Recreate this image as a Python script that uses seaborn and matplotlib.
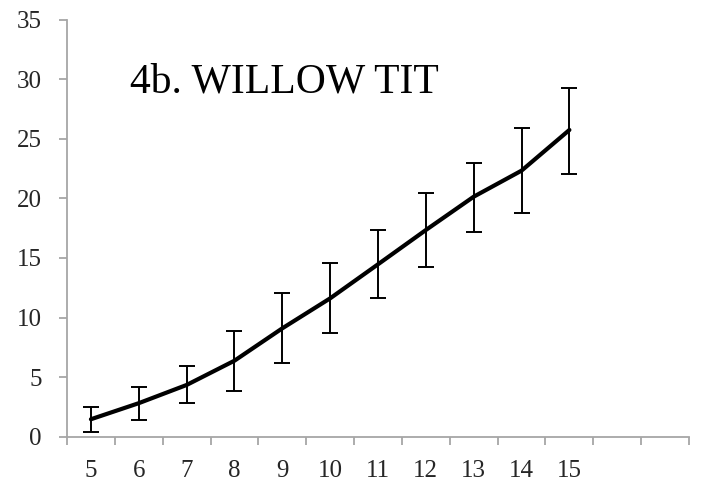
import numpy as np
import pandas as pd
import matplotlib
matplotlib.use("Agg")
import matplotlib.pyplot as plt
import seaborn as sns

# Data
ages = ["5", "6", "7", "8", "9", "10", "11", "12", "13", "14", "15"]
extra_slots = 2  # empty categories at the right of the axis
mean_vals = [1.45, 2.8, 4.33, 6.37, 9.09, 11.61, 14.47, 17.35, 20.15, 22.34, 25.76]
upper_vals = [2.45, 4.16, 5.92, 8.84, 12.03, 14.55, 17.35, 20.44, 22.96, 25.92, 29.31]
lower_vals = [0.38, 1.39, 2.79, 3.82, 6.2, 8.67, 11.61, 14.27, 17.21, 18.76, 22.06]
y_ticks = [0, 5, 10, 15, 20, 25, 30, 35]
title_text = "4b. WILLOW TIT"

df = pd.DataFrame({"pos": np.arange(len(ages)), "age": ages, "mean": mean_vals,
                   "lo": lower_vals, "hi": upper_vals})

sns.set_style("white")
plt.rcParams["font.family"] = ["Liberation Serif", "DejaVu Serif"]

fig = plt.figure(figsize=(7.01, 4.88), dpi=100)
ax = fig.add_axes([67 / 701, 1 - 436.5 / 488, 622 / 701, 416.5 / 488])

ax.errorbar(df["pos"], df["mean"],
            yerr=[df["mean"] - df["lo"], df["hi"] - df["mean"]],
            fmt="none", ecolor="black", elinewidth=1.4, capsize=5.5, capthick=1.4, zorder=2)
sns.lineplot(data=df, x="pos", y="mean", color="black", linewidth=3.0, ax=ax, zorder=3)

n_slots = len(ages) + extra_slots
ax.set_xlim(-0.5, n_slots - 0.5)
ax.set_ylim(0, 35)
ax.set_yticks(y_ticks)
ax.set_yticklabels([str(v) for v in y_ticks])
ax.set_xticks(np.arange(-0.5, n_slots, 1.0))
ax.set_xticklabels([])
ax.set_xticks(np.arange(len(ages)), minor=True)
ax.set_xticklabels(ages, minor=True)
ax.set_xlabel("")
ax.set_ylabel("")

grey = "#a6a6a6"
for side in ["top", "right"]:
    ax.spines[side].set_visible(False)
for side in ["left", "bottom"]:
    ax.spines[side].set_color(grey)
    ax.spines[side].set_linewidth(1.3)

ax.tick_params(axis="y", which="major", direction="out", length=6, width=1.3, color=grey,
               labelsize=18, pad=12, left=True)
ax.tick_params(axis="x", which="major", direction="out", length=5.5, width=1.3, color=grey,
               bottom=True)
ax.tick_params(axis="x", which="minor", length=0, labelsize=18, pad=17)

ax.text(0.101, 0.825, title_text, transform=ax.transAxes, fontsize=30,
        ha="left", va="baseline", color="black")

fig.savefig("out.png", dpi=100)
